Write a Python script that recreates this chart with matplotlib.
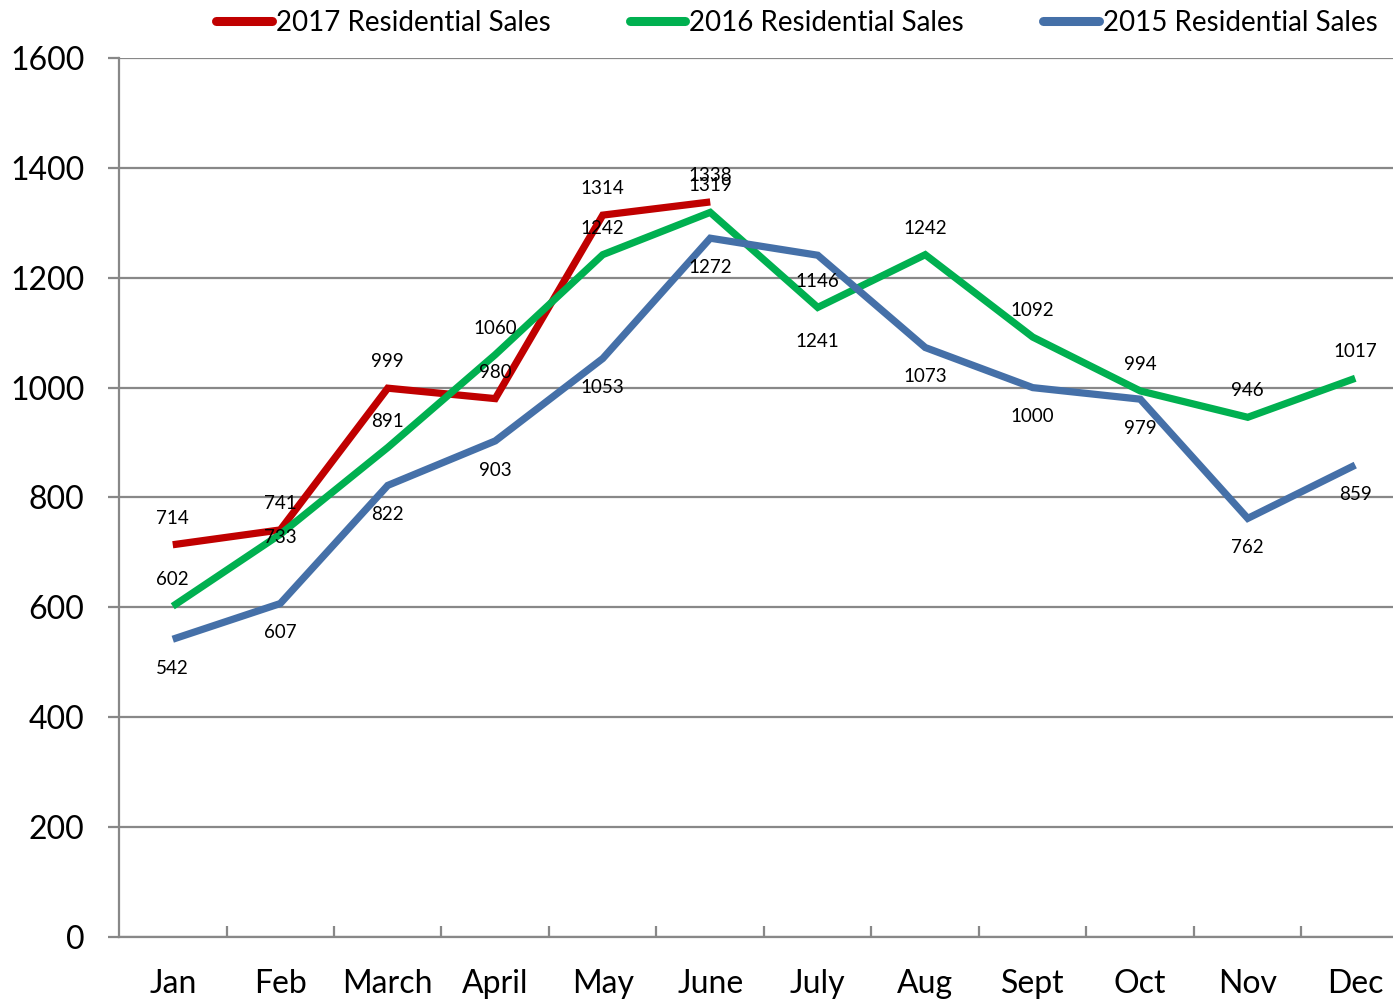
import matplotlib
matplotlib.use("Agg")
import matplotlib.pyplot as plt

plt.rcParams['font.family'] = ['Lato', 'DejaVu Sans']

months = ["Jan", "Feb", "March", "April", "May", "June",
          "July", "Aug", "Sept", "Oct", "Nov", "Dec"]

sales_2017 = [714, 741, 999, 980, 1314, 1338]
sales_2016 = [602, 733, 891, 1060, 1242, 1319, 1146, 1242, 1092, 994, 946, 1017]
sales_2015 = [542, 607, 822, 903, 1053, 1272, 1241, 1073, 1000, 979, 762, 859]

# label offsets in points (vertical), per point
off_2017 = [19] * 6
off_2016 = [19, -2, 19, 19, 19, 19, 19, 19, 19, 19, 19, 19]
off_2015 = [-21, -21, -21, -21, -21, -21, -62, -21, -21, -21, -21, -21]

c2017 = "#C00000"
c2016 = "#00B050"
c2015 = "#4570A8"
grid_c = "#888888"

fig = plt.figure(figsize=(13.93, 10.01), dpi=100)
ax = fig.add_axes([119 / 1393, 1 - 937 / 1001, 1290 / 1393, 879 / 1001])

x = list(range(len(months)))
lw = 5.2
ax.plot(x[:len(sales_2017)], sales_2017, color=c2017, lw=lw,
        solid_capstyle='butt', solid_joinstyle='miter', label="2017 Residential Sales", zorder=3)
ax.plot(x, sales_2016, color=c2016, lw=lw,
        solid_capstyle='butt', solid_joinstyle='miter', label="2016 Residential Sales", zorder=4)
ax.plot(x, sales_2015, color=c2015, lw=lw,
        solid_capstyle='butt', solid_joinstyle='miter', label="2015 Residential Sales", zorder=5)

for vals, offs in [(sales_2017, off_2017), (sales_2016, off_2016), (sales_2015, off_2015)]:
    for i, v in enumerate(vals):
        ax.annotate(f"{v}", (i, v), textcoords="offset points", xytext=(0, offs[i]),
                    ha='center', va='center', fontsize=13.5, color='black', zorder=6)

ax.set_xlim(-0.5, len(months) - 0.5)
ax.set_ylim(0, 1600)
ax.set_yticks(range(0, 1601, 200))
ax.grid(axis='y', color=grid_c, lw=1.6)
ax.set_axisbelow(True)

ax.set_xticks(x)
ax.set_xticklabels(months, fontsize=23)
ax.set_xticks([i + 0.5 for i in range(len(months) - 1)], minor=True)
ax.tick_params(axis='x', which='major', length=0, pad=23)
ax.tick_params(axis='x', which='minor', direction='in', length=8, width=1.6, color=grid_c)
ax.tick_params(axis='y', length=8, width=1.6, color=grid_c, labelsize=23, pad=17)

for s in ['top', 'right']:
    ax.spines[s].set_visible(False)
ax.spines['left'].set_color(grid_c)
ax.spines['left'].set_linewidth(1.6)
ax.spines['bottom'].set_color(grid_c)
ax.spines['bottom'].set_linewidth(1.6)

leg = fig.legend(loc='center', bbox_to_anchor=(797 / 1393, 1 - 23 / 1001), ncol=3,
                 frameon=False, fontsize=20, handlelength=2.0, handletextpad=0.15,
                 columnspacing=2.85)
for h in leg.get_lines():
    h.set_solid_capstyle('round')
    h.set_linewidth(6.5)

fig.savefig("out.png", dpi=100)
